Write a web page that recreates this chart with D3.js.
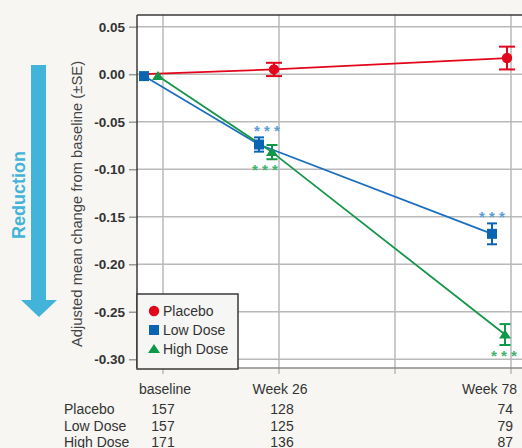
<!DOCTYPE html>
<html>
<head>
<meta charset="utf-8">
<script src="https://cdn.jsdelivr.net/npm/d3@7"></script>
<style>
  body { margin: 0; background: #f7f6f2; }
  svg { display: block; font-family: "Liberation Sans", Arial, Helvetica, sans-serif; }
</style>
</head>
<body>
<svg width="522" height="448"></svg>
<script>
// data
var weeks = [0, 26, 78];
var xLabels = ["baseline", "Week 26", "Week 78"];
var gridWeeks = [0, 26, 52, 78];
var yTicks = [0.05, 0, -0.05, -0.10, -0.15, -0.20, -0.25, -0.30];
var groups = ["Placebo", "Low Dose", "High Dose"];

var placeboMean = [0, 0.005, 0.017];
var placeboSE = [0, 0.007, 0.012];
var lowMean = [-0.002, -0.074, -0.168];
var lowSE = [0, 0.0075, 0.011];
var highMean = [-0.002, -0.082, -0.274];
var highSE = [0, 0.0075, 0.011];

var placeboN = [157, 128, 74];
var lowN = [157, 125, 79];
var highN = [171, 136, 87];

// significance marks: group index, week index, above/below
var stars = [
  {g: 1, i: 1, side: "above"},
  {g: 2, i: 1, side: "below"},
  {g: 1, i: 2, side: "above"},
  {g: 2, i: 2, side: "below"}
];

var svg = d3.select("svg");
var plotL = 137, plotR = 522, plotT = 15, plotB = 368;

var x = d3.scaleLinear().domain([0, 78]).range([163, 511]);
var y = d3.scaleLinear().domain([-0.3092, 0.0623]).range([plotB, plotT]);

var colors = ["#e3051b", "#1b6fbf", "#16964a"];
var markColors = ["#e3051b", "#0a64b2", "#10984a"];
var starColors = ["#e3051b", "#5b9fd6", "#3fb36c"];
// horizontal dodge of each group's marks (px), placebo baseline sits under the square
var dodge = [[-19, -5, -4], [-19, -20, -19], [-5, -7, -6]];

var means = [placeboMean, lowMean, highMean];
var ses = [placeboSE, lowSE, highSE];
var counts = [placeboN, lowN, highN];

// plot background
svg.append("rect").attr("x", plotL).attr("y", plotT)
  .attr("width", plotR - plotL).attr("height", plotB - plotT).attr("fill", "#fff");

// grid
svg.selectAll(".hgrid").data(yTicks).enter().append("line")
  .attr("x1", plotL).attr("x2", plotR)
  .attr("y1", function(d) { return y(d); }).attr("y2", function(d) { return y(d); })
  .attr("stroke", "#b9b9b9").attr("stroke-width", 1.5);
svg.selectAll(".vgrid").data(gridWeeks).enter().append("line")
  .attr("x1", function(d) { return x(d); }).attr("x2", function(d) { return x(d); })
  .attr("y1", plotT).attr("y2", plotB + 6)
  .attr("stroke", "#b9b9b9").attr("stroke-width", 1.5);

// y axis
var yAxis = svg.append("g").attr("transform", "translate(" + plotL + ",0)")
  .call(d3.axisLeft(y).tickValues(yTicks).tickSize(8).tickPadding(4)
    .tickFormat(function(d) { return d.toFixed(2); }));
yAxis.select(".domain").remove();
yAxis.selectAll(".tick line").attr("stroke", "#9a9a9a").attr("stroke-width", 1.5);
yAxis.selectAll(".tick text").attr("fill", "#333").attr("font-size", 13.5)
  .attr("font-weight", "bold").attr("font-family", "Liberation Sans, Arial, sans-serif");

// borders
svg.append("line").attr("x1", plotL).attr("x2", plotR).attr("y1", plotT).attr("y2", plotT)
  .attr("stroke", "#3a3a3a").attr("stroke-width", 1.5);
svg.append("line").attr("x1", plotL).attr("x2", plotL).attr("y1", plotT).attr("y2", plotB)
  .attr("stroke", "#3a3a3a").attr("stroke-width", 1.5);
svg.append("line").attr("x1", plotL).attr("x2", plotR).attr("y1", plotB).attr("y2", plotB)
  .attr("stroke", "#8a8a8a").attr("stroke-width", 1.5);

// lines
var line = d3.line()
  .x(function(d) { return d.x; })
  .y(function(d) { return y(d.v); });

var pts = groups.map(function(name, g) {
  return weeks.map(function(w, i) {
    return {g: g, i: i, x: x(w) + dodge[g][i], v: means[g][i], se: ses[g][i]};
  });
});

svg.selectAll(".series").data(pts).enter().append("path")
  .attr("d", line)
  .attr("fill", "none")
  .attr("stroke", function(d, g) { return colors[g]; })
  .attr("stroke-width", 1.8);

// error bars
var allPts = d3.merge(pts).filter(function(d) { return d.se > 0; });
var capW = [8, 5, 5.5];
var eb = svg.selectAll(".eb").data(allPts).enter().append("g")
  .attr("stroke", function(d) { return markColors[d.g]; })
  .attr("stroke-width", 2);
eb.append("line")
  .attr("x1", function(d) { return d.x; }).attr("x2", function(d) { return d.x; })
  .attr("y1", function(d) { return y(d.v + d.se); }).attr("y2", function(d) { return y(d.v - d.se); });
eb.append("line")
  .attr("x1", function(d) { return d.x - capW[d.g]; }).attr("x2", function(d) { return d.x + capW[d.g]; })
  .attr("y1", function(d) { return y(d.v + d.se); }).attr("y2", function(d) { return y(d.v + d.se); });
eb.append("line")
  .attr("x1", function(d) { return d.x - capW[d.g]; }).attr("x2", function(d) { return d.x + capW[d.g]; })
  .attr("y1", function(d) { return y(d.v - d.se); }).attr("y2", function(d) { return y(d.v - d.se); });

// markers
function marker(sel, g) {
  if (g === 0) sel.append("circle").attr("r", 5.2).attr("fill", markColors[0]);
  else if (g === 1) sel.append("rect").attr("x", -5).attr("y", -5).attr("width", 10).attr("height", 10).attr("fill", markColors[1]);
  else sel.append("path").attr("d", "M0,-5L6,4L-6,4Z").attr("fill", markColors[2]);
}
[0, 2, 1].forEach(function(g) {
  pts[g].forEach(function(d) {
    if (g === 0 && d.i === 0) return; // hidden behind the baseline square
    var m = svg.append("g").attr("transform", "translate(" + d.x + "," + y(d.v) + ")");
    marker(m, g);
  });
});

// significance stars
var starDx = [8, -7, 0, -1];
svg.selectAll(".star").data(stars).enter().append("text")
  .attr("x", function(d, k) { return pts[d.g][d.i].x + starDx[k]; })
  .attr("y", function(d) {
    var p = pts[d.g][d.i];
    return d.side === "above" ? y(p.v + p.se) - 1 : y(p.v - p.se) + 16;
  })
  .attr("text-anchor", "middle")
  .attr("font-size", 15).attr("font-weight", "bold")
  .attr("fill", function(d) { return starColors[d.g]; })
  .text("* * *");

// legend
var lg = svg.append("g");
lg.append("rect").attr("x", 137).attr("y", 294).attr("width", 101).attr("height", 75)
  .attr("fill", "#f6f6f4").attr("stroke", "#3a3a3a").attr("stroke-width", 1.5);
groups.forEach(function(name, g) {
  var row = lg.append("g").attr("transform", "translate(154," + (311 + g * 19) + ")");
  marker(row, g);
  row.append("text").attr("x", 9).attr("y", 5).attr("font-size", 14)
    .attr("fill", "#333").text(name);
});

// x labels
var xAnchor = ["middle", "middle", "end"];
var xLabelX = [x(0) + 2, x(26) + 1, 517];
svg.selectAll(".xl").data(xLabels).enter().append("text")
  .attr("x", function(d, i) { return xLabelX[i]; })
  .attr("y", 394)
  .attr("text-anchor", function(d, i) { return xAnchor[i]; })
  .attr("font-size", 14).attr("fill", "#333")
  .text(function(d) { return d; });

// n table
var colX = [x(0), x(26) + 3, 513];
groups.forEach(function(name, g) {
  var ty = 414 + g * 16.5;
  svg.append("text").attr("x", 64).attr("y", ty).attr("font-size", 14).attr("fill", "#333").text(name);
  counts[g].forEach(function(n, i) {
    svg.append("text").attr("x", colX[i]).attr("y", ty)
      .attr("text-anchor", xAnchor[i])
      .attr("font-size", 14).attr("fill", "#333").text(n);
  });
});

// y title
svg.append("text")
  .attr("transform", "translate(77,204) rotate(-90)")
  .attr("text-anchor", "middle").attr("dominant-baseline", "central")
  .attr("font-size", 14.8).attr("fill", "#444")
  .text("Adjusted mean change from baseline (±SE)");

// reduction arrow
svg.append("rect").attr("x", 31).attr("y", 65).attr("width", 15).attr("height", 236).attr("fill", "#42b4d9");
svg.append("path").attr("d", "M21,300L57,300L39,317Z").attr("fill", "#42b4d9");
svg.append("text")
  .attr("transform", "translate(19,195) rotate(-90)")
  .attr("text-anchor", "middle").attr("dominant-baseline", "central")
  .attr("font-size", 18).attr("font-weight", "bold").attr("fill", "#42b4d9")
  .text("Reduction");
</script>
</body>
</html>
